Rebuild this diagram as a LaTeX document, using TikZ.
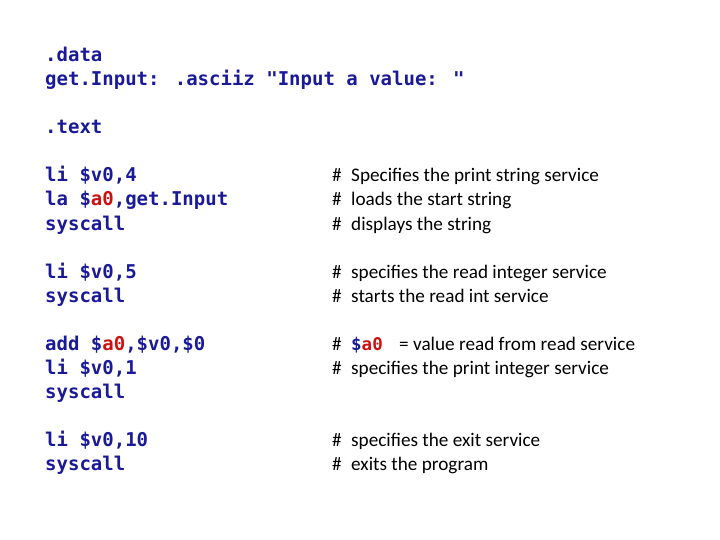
\documentclass[tikz,border=0pt]{standalone}
\usepackage{fontspec}
\setmainfont{Carlito}
\newfontfamily\codefont{DejaVu Sans Mono}
\definecolor{codeblue}{HTML}{1A1A99}
\definecolor{codered}{HTML}{CC1111}
\tikzset{
  code/.style={anchor=base west, inner sep=0pt, font=\codefont\fontsize{19}{22}\selectfont\bfseries, text=codeblue},
  cmt/.style={anchor=base west, inner sep=0pt, font=\fontsize{19.2}{21}\selectfont, text=black},
  hash/.style={anchor=base west, inner sep=0pt, font=\fontsize{19.2}{21}\selectfont, text=black}
}
\newcommand{\rr}[1]{\textcolor{codered}{#1}}
\begin{document}
\begin{tikzpicture}[x=1pt,y=-1pt]
\useasboundingbox (0,0) rectangle (720,540);
\fill[white] (0,0) rectangle (720,540);
\def\bl{6}
\node[code] (l1) at (45,56+\bl) {.data};
\node[code] (l2) at (45,80+\bl) {get.Input: .asciiz "Input a value: "};
\node[code] (l3) at (45,128+\bl) {.text};
\node[code] (l4) at (45,176+\bl) {li \$v0,4};
\node[code] (l5) at (45,200+\bl) {la \$\rr{a0},get.Input};
\node[code] (l6) at (45,224+\bl) {syscall};
\node[code] (l7) at (45,272+\bl) {li \$v0,5};
\node[code] (l8) at (45,296+\bl) {syscall};
\node[code] (l9) at (45,344+\bl) {add \$\rr{a0},\$v0,\$0};
\node[code] (l10) at (45,368+\bl) {li \$v0,1};
\node[code] (l11) at (45,392+\bl) {syscall};
\node[code] (l12) at (45,440+\bl) {li \$v0,10};
\node[code] (l13) at (45,464+\bl) {syscall};
\foreach \y/\t [count=\i] in {176/Specifies the print string service,200/loads the start string,224/displays the string,272/specifies the read integer service,296/starts the read int service,368/specifies the print integer service,440/specifies the exit service,464/exits the program}{
  \node[hash] (h\i) at (332,\y+\bl) {\#};
  \node[cmt] (c\i) at (351,\y+\bl) {\t};
}
\node[hash] (h9) at (332,344+\bl) {\#};
\node[code, font=\codefont\fontsize{17.5}{20}\selectfont\bfseries] (c9a) at (351,344+\bl) {\$\rr{a0}};
\node[cmt] (c9) at (399,344+\bl) {= value read from read service};
\end{tikzpicture}
\end{document}
